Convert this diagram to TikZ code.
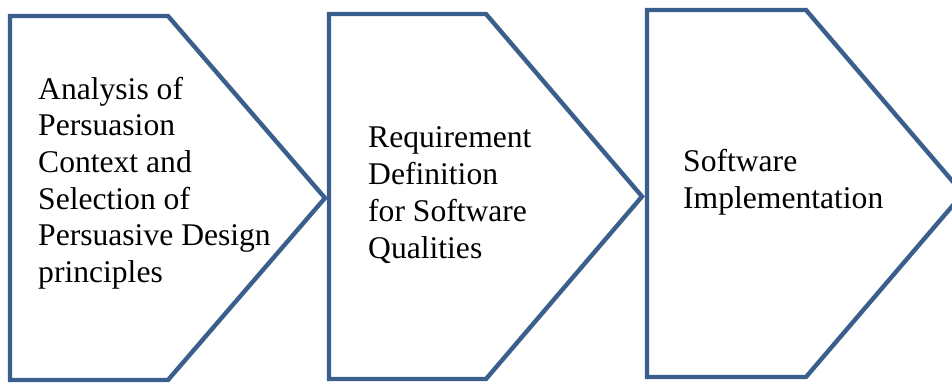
\documentclass[tikz,border=0pt]{standalone}
\usepackage{fontspec}
\setmainfont{Liberation Serif}
\definecolor{stageblue}{HTML}{3A5F8D}
\tikzset{
  stageline/.style={draw=stageblue, line width=4.4pt, miter limit=10},
  % anchored at the baseline of the last line
  stagetext/.style={anchor=base west, align=left, inner sep=0pt,
    font=\fontsize{31.6}{36.7}\selectfont}
}
\begin{document}
\begin{tikzpicture}[x=1pt,y=-1pt]
  \useasboundingbox (0,0) rectangle (952,383);
  \clip (0,0) rectangle (952,383);

    % the three process arrows: left, top, corner, tip, bottom
    \foreach \l/\t/\c/\p/\b in {10/16/168/325/380, 329/14/486/642/379, 647/10/806/963/377}
    {   \draw[stageline] (\l,\t) -- (\c,\t) -- (\p,{(\t+\b)/2}) -- (\c,\b) -- (\l,\b) -- cycle;}

  \node[stagetext] (analysis) at (38,282.5) {Analysis of\\Persuasion\\Context and\\Selection of\\Persuasive Design\\principles};
  \node[stagetext] (requirement) at (368,258) {Requirement\\Definition\\for Software\\Qualities};
  \node[stagetext] (implementation) at (683,208) {Software\\Implementation};
  \end{tikzpicture}
\end{document}
